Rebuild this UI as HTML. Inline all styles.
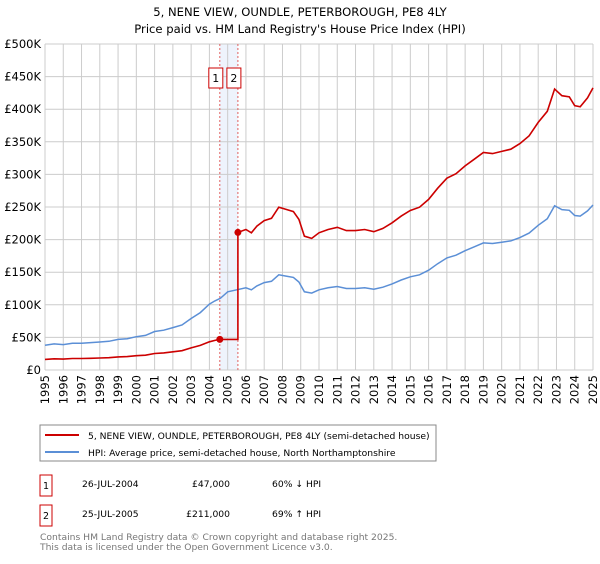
<!DOCTYPE html>
<html><head><meta charset="utf-8"><style>
body{margin:0;background:#fff;font-family:"DejaVu Sans","Liberation Sans",sans-serif;}
svg text{font-family:"DejaVu Sans","Liberation Sans",sans-serif;}
</style></head><body>
<svg id="chart" width="600" height="560" xmlns="http://www.w3.org/2000/svg">
<text x="300" y="16" text-anchor="middle" font-size="11.6" fill="#000">5, NENE VIEW, OUNDLE, PETERBOROUGH, PE8 4LY</text>
<text x="300" y="33" text-anchor="middle" font-size="11.6" fill="#000">Price paid vs. HM Land Registry's House Price Index (HPI)</text>
<g id="grid"></g><g id="series"></g><g id="axes"></g>
<rect x="40" y="425" width="396" height="36" fill="#fff" stroke="#888"/>
<line x1="45" y1="435" x2="79" y2="435" stroke="#cc0000" stroke-width="2"/>
<text x="88" y="439" font-size="9.2">5, NENE VIEW, OUNDLE, PETERBOROUGH, PE8 4LY (semi-detached house)</text>
<line x1="45" y1="452" x2="79" y2="452" stroke="#5b8fd6" stroke-width="2"/>
<text x="88" y="456" font-size="9.2">HPI: Average price, semi-detached house, North Northamptonshire</text>
<g>
<rect x="40" y="475" width="12" height="21" fill="#fff" stroke="#cc0000"/>
<text x="46" y="489" font-size="9.5" text-anchor="middle">1</text>
<text x="82" y="487" font-size="9.2">26-JUL-2004</text>
<text x="230" y="487" font-size="9.2" text-anchor="end">£47,000</text>
<text x="272" y="487" font-size="9.2">60% ↓ HPI</text></g>
<g>
<rect x="40" y="505" width="12" height="21" fill="#fff" stroke="#cc0000"/>
<text x="46" y="519" font-size="9.5" text-anchor="middle">2</text>
<text x="82" y="517" font-size="9.2">25-JUL-2005</text>
<text x="230" y="517" font-size="9.2" text-anchor="end">£211,000</text>
<text x="272" y="517" font-size="9.2">69% ↑ HPI</text></g>
<text x="40" y="540" font-size="9.2" fill="#777">Contains HM Land Registry data © Crown copyright and database right 2025.</text>
<text x="40" y="550" font-size="9.2" fill="#777">This data is licensed under the Open Government Licence v3.0.</text>
</svg>
<script>
const hpiYears=[1995,1995.5,1996,1996.5,1997,1997.5,1998,1998.5,1999,1999.5,2000,2000.5,2001,2001.5,2002,2002.5,2003,2003.5,2004,2004.3,2004.6,2005,2005.5,2006,2006.3,2006.6,2007,2007.4,2007.8,2008.2,2008.6,2008.9,2009.2,2009.6,2010,2010.5,2011,2011.5,2012,2012.5,2013,2013.5,2014,2014.5,2015,2015.5,2016,2016.5,2017,2017.5,2018,2018.5,2019,2019.5,2020,2020.5,2021,2021.5,2022,2022.5,2022.9,2023.3,2023.7,2024,2024.3,2024.7,2025];
const hpiValues=[38,40,39,41,41,42,43,44,47,48,51,53,59,61,65,69,79,88,101,106,110,120,123,126,123,129,134,136,146,144,142,135,120,118,123,126,128,125,125,126,124,127,132,138,143,146,153,163,172,176,183,189,195,194,196,198,203,210,222,232,252,246,245,237,236,244,253];
const saleYears=[2004.57,2005.56];
const salePrices=[47,211];
const yTicks=[0,50,100,150,200,250,300,350,400,450,500];
const yTickLabels=["£0","£50K","£100K","£150K","£200K","£250K","£300K","£350K","£400K","£450K","£500K"];
const xTickYears=[1995,1996,1997,1998,1999,2000,2001,2002,2003,2004,2005,2006,2007,2008,2009,2010,2011,2012,2013,2014,2015,2016,2017,2018,2019,2020,2021,2022,2023,2024,2025];
const NS="http://www.w3.org/2000/svg";
const X0=45,X1=593,Y0=370,Y1=44;
const xs=y=>X0+(y-1995)/(2025-1995)*(X1-X0);
const ys=v=>Y0-v/500*(Y0-Y1);
function mk(t,a,p){const e=document.createElementNS(NS,t);for(const k in a)e.setAttribute(k,a[k]);p.appendChild(e);return e;}
const grid=document.getElementById('grid'),ser=document.getElementById('series'),ax=document.getElementById('axes');
const band=mk('rect',{x:xs(saleYears[0]),y:Y1,width:xs(saleYears[1])-xs(saleYears[0]),height:Y0-Y1,fill:'#eef3fc'},grid);


yTicks.forEach((v,i)=>{
 const l=mk('line',{x1:X0,x2:X1,y1:ys(v),y2:ys(v),stroke:'#cccccc'},grid);
 
 
 const t=mk('text',{x:41,y:ys(v)+4,'text-anchor':'end','font-size':'11.5'},ax);
 t.textContent=yTickLabels[i];
 
 
});
xTickYears.forEach(yr=>{
 const l=mk('line',{x1:xs(yr),x2:xs(yr),y1:Y1,y2:Y0,stroke:'#cccccc'},grid);
 
 
 const t=mk('text',{x:0,y:0,'text-anchor':'end','font-size':'11.5',transform:`translate(${xs(yr)+4},375) rotate(-90)`},ax);
 t.textContent=yr;
 
 
});
saleYears.forEach((yr,i)=>{
 const l=mk('line',{x1:xs(yr),x2:xs(yr),y1:Y1,y2:Y0,stroke:'#e06060','stroke-dasharray':'2,2'},grid);
 
 
 const cx=xs(yr)-4;
 const r=mk('rect',{x:cx-7,y:68,width:14,height:20,fill:'#fff',stroke:'#cc0000'},ax);
 
 
 const t=mk('text',{x:cx,y:82,'text-anchor':'middle','font-size':'11'},ax);
 t.textContent=String(i+1);
 
 
});
const hp=hpiYears.map((y,i)=>xs(y).toFixed(1)+','+ys(hpiValues[i]).toFixed(1)).join(' ');
const hl=mk('polyline',{points:hp,fill:'none',stroke:'#5b8fd6','stroke-width':1.5},ser);


function hpiAt(y){for(let i=1;i<hpiYears.length;i++){if(y<=hpiYears[i]){const f=(y-hpiYears[i-1])/(hpiYears[i]-hpiYears[i-1]);return hpiValues[i-1]+f*(hpiValues[i]-hpiValues[i-1]);}}return hpiValues[hpiValues.length-1];}
const r1=salePrices[0]/hpiAt(saleYears[0]),r2=salePrices[1]/hpiAt(saleYears[1]);
const pts=[];
hpiYears.forEach((y,i)=>{if(y<saleYears[0])pts.push([y,hpiValues[i]*r1]);});
pts.push([saleYears[0],salePrices[0]]);
pts.push([saleYears[1],salePrices[0]]);
pts.push([saleYears[1],salePrices[1]]);
hpiYears.forEach((y,i)=>{if(y>saleYears[1])pts.push([y,hpiValues[i]*r2]);});
const pl=mk('polyline',{points:pts.map(p=>xs(p[0]).toFixed(1)+','+ys(p[1]).toFixed(1)).join(' '),fill:'none',stroke:'#cc0000','stroke-width':1.6},ser);


saleYears.forEach((yr,i)=>{
 const c=mk('circle',{cx:xs(yr),cy:ys(salePrices[i]),r:3.5,fill:'#cc0000'},ser);
 
 
});
</script>
</body></html>
